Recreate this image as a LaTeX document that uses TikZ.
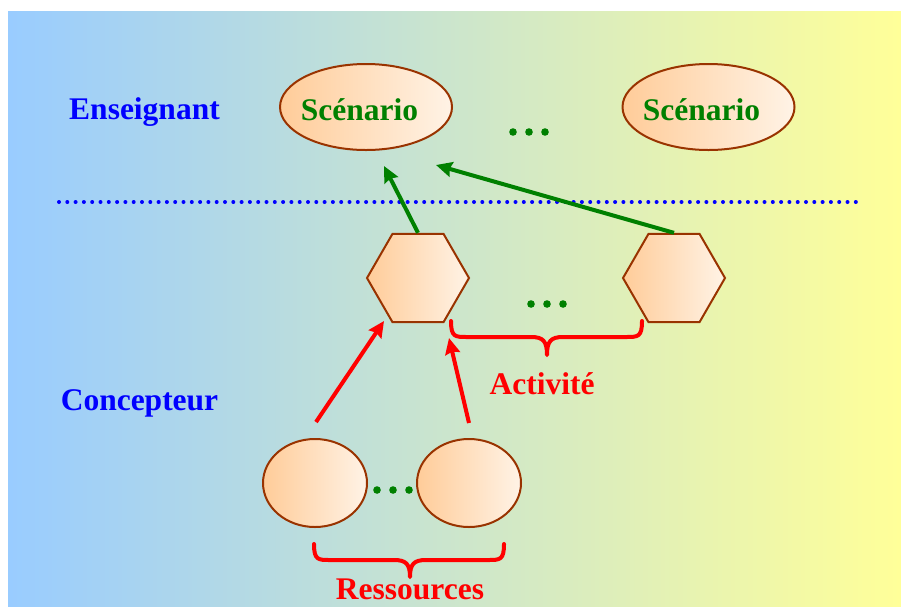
\documentclass[tikz,border=0pt]{standalone}
\usepackage{fontspec}
\setmainfont{Liberation Serif}
\usetikzlibrary{shapes.geometric,arrows.meta,calc}
\definecolor{bgl}{HTML}{99CCFF}
\definecolor{bgr}{HTML}{FFFF99}
\definecolor{pl}{HTML}{FFCC99}
\definecolor{pr}{HTML}{FFF3E6}
\definecolor{brd}{HTML}{993300}
\definecolor{grn}{HTML}{008000}
\begin{document}
\begin{tikzpicture}[x=1pt,y=-1pt,
  lbl/.style={font=\fontsize{31.5}{36}\selectfont\bfseries, inner sep=0pt, anchor=base},
  role/.style={lbl, text=blue},
  peach/.style={draw=brd, line width=2pt, left color=pl, right color=pr, inner sep=0pt},
  scen/.style={peach, ellipse, minimum width=172pt, minimum height=86pt},
  res/.style={peach, ellipse, minimum width=104pt, minimum height=88pt},
  hexa/.style={peach, regular polygon, regular polygon sides=6, minimum size=102pt},
  garr/.style={draw=grn, line width=4pt, -{Stealth[length=16pt,width=15pt,inset=2pt]}},
  rarr/.style={draw=red, line width=4pt, -{Stealth[length=16pt,width=15pt,inset=2pt]}},
  brace/.style={draw=red, line width=4pt, line cap=round, line join=round},
  dot/.style={fill=grn}
]
\useasboundingbox (0,0) rectangle (901,606);
\fill[white] (0,0) rectangle (901,606);
\shade[left color=bgl, right color=bgr] (8,11) rectangle (901,606);

% role labels
\node[role] (ens) at (144.5,119.5) {Enseignant};
\node[role] (con) at (139.5,410) {Concepteur};

% scenarios
\node[scen] (s1) at (366,107) {};
\node[scen] (s2) at (708.5,107) {};
\node[lbl, text=grn] (t1) at (359.5,120) {Scénario};
\node[lbl, text=grn] (t2) at (701.5,120) {Scénario};

% dotted separator
\coordinate (dl) at (59,202);
\coordinate (dr) at (861,202);
\draw[blue, line width=4pt, line cap=round, dash pattern=on 0pt off 8.3pt] (dl) -- (dr);

% activities
\node[hexa] (h1) at (418,278) {};
\node[hexa] (h2) at (674,278) {};

% resources
\node[res] (r1) at (315,483) {};
\node[res] (r2) at (469,483) {};

% dots
\foreach \x in {513,529,545} \fill[dot] (\x,132) circle (3.8pt);
\foreach \x in {531,547,563} \fill[dot] (\x,304) circle (3.8pt);
\foreach \x in {377,393,409} \fill[dot] (\x,490) circle (3.8pt);

% green arrows
\coordinate (g1) at (384,166);
\coordinate (g2) at (436,165);
\draw[garr] (h1.north) -- (g1);
\draw[garr] (h2.north) -- (g2);

% red arrows
\coordinate (a1) at (316,422);
\coordinate (b1) at (384,321);
\coordinate (a2) at (469,423);
\coordinate (b2) at (449,338);
\draw[rarr] (a1) -- (b1);
\draw[rarr] (a2) -- (b2);

% braces
\draw[brace] (451,321) .. controls (451,337) and (455,337) .. (467,337) -- (531,337)
  .. controls (543,337) and (547,341) .. (547,355)
  .. controls (547,341) and (551,337) .. (563,337) -- (626,337)
  .. controls (638,337) and (642,337) .. (642,321);
\draw[brace] (314,544) .. controls (314,560) and (318,560) .. (330,560) -- (394,560)
  .. controls (406,560) and (410,564) .. (410,577)
  .. controls (410,564) and (414,560) .. (426,560) -- (488,560)
  .. controls (500,560) and (504,560) .. (504,544);

\node[lbl, text=red] (act) at (542,394) {Activité};
\node[lbl, text=red] (ress) at (410,599) {Ressources};
\end{tikzpicture}
\end{document}
